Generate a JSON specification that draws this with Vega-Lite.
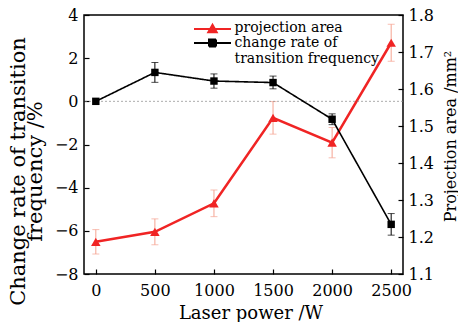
{
  "$schema": "https://vega.github.io/schema/vega-lite/v6.json",
  "width": 319,
  "height": 259,
  "autosize": "none",
  "padding": {"left": 84, "top": 15, "right": 55, "bottom": 48},
  "background": "white",
  "datasets": {
    "area": [
      {"power": 0, "area": 1.187, "lo": 1.154, "hi": 1.220, "series": "projection area"},
      {"power": 500, "area": 1.214, "lo": 1.179, "hi": 1.249, "series": "projection area"},
      {"power": 1000, "area": 1.291, "lo": 1.255, "hi": 1.327, "series": "projection area"},
      {"power": 1500, "area": 1.522, "lo": 1.478, "hi": 1.566, "series": "projection area"},
      {"power": 2000, "area": 1.455, "lo": 1.414, "hi": 1.496, "series": "projection area"},
      {"power": 2500, "area": 1.725, "lo": 1.675, "hi": 1.775, "series": "projection area"}
    ],
    "rate": [
      {"power": 0, "rate": 0, "lo": 0, "hi": 0, "series": "change rate of transition frequency"},
      {"power": 500, "rate": 1.34, "lo": 0.88, "hi": 1.80, "series": "change rate of transition frequency"},
      {"power": 1000, "rate": 0.94, "lo": 0.61, "hi": 1.27, "series": "change rate of transition frequency"},
      {"power": 1500, "rate": 0.87, "lo": 0.58, "hi": 1.17, "series": "change rate of transition frequency"},
      {"power": 2000, "rate": -0.83, "lo": -1.08, "hi": -0.58, "series": "change rate of transition frequency"},
      {"power": 2500, "rate": -5.7, "lo": -6.2, "hi": -5.2, "series": "change rate of transition frequency"}
    ],
    "zero": [{"v": 0}]
  },
  "layer": [
    {
      "data": {"name": "area"},
      "layer": [
        {
          "mark": {"type": "rule", "color": "#f5a391", "strokeWidth": 1},
          "encoding": {
            "x": {"field": "power", "type": "quantitative", "scale": {"domain": [-100, 2600]}, "axis": {"title": "Laser power /W", "values": [0, 500, 1000, 1500, 2000, 2500], "format": "d"}},
            "y": {"field": "lo", "type": "quantitative", "scale": {"domain": [1.1, 1.8]}, "axis": {"orient": "right", "title": "Projection area /mm²", "values": [1.1, 1.2, 1.3, 1.4, 1.5, 1.6, 1.7, 1.8], "format": ".1f"}},
            "y2": {"field": "hi"}
          }
        },
        {
          "mark": {"type": "tick", "orient": "horizontal", "color": "#f5a391", "size": 7, "thickness": 1},
          "encoding": {
            "x": {"field": "power", "type": "quantitative", "scale": {"domain": [-100, 2600]}, "axis": {"title": "Laser power /W", "values": [0, 500, 1000, 1500, 2000, 2500], "format": "d"}},
            "y": {"field": "lo", "type": "quantitative", "scale": {"domain": [1.1, 1.8]}, "axis": {"orient": "right", "title": "Projection area /mm²", "values": [1.1, 1.2, 1.3, 1.4, 1.5, 1.6, 1.7, 1.8], "format": ".1f"}}
          }
        },
        {
          "mark": {"type": "tick", "orient": "horizontal", "color": "#f5a391", "size": 7, "thickness": 1},
          "encoding": {
            "x": {"field": "power", "type": "quantitative", "scale": {"domain": [-100, 2600]}, "axis": {"title": "Laser power /W", "values": [0, 500, 1000, 1500, 2000, 2500], "format": "d"}},
            "y": {"field": "hi", "type": "quantitative", "scale": {"domain": [1.1, 1.8]}, "axis": {"orient": "right", "title": "Projection area /mm²", "values": [1.1, 1.2, 1.3, 1.4, 1.5, 1.6, 1.7, 1.8], "format": ".1f"}}
          }
        },
        {
          "mark": {"type": "line", "strokeWidth": 2.5},
          "encoding": {
            "x": {"field": "power", "type": "quantitative", "scale": {"domain": [-100, 2600]}, "axis": {"title": "Laser power /W", "values": [0, 500, 1000, 1500, 2000, 2500], "format": "d"}},
            "y": {"field": "area", "type": "quantitative", "scale": {"domain": [1.1, 1.8]}, "axis": {"orient": "right", "title": "Projection area /mm²", "values": [1.1, 1.2, 1.3, 1.4, 1.5, 1.6, 1.7, 1.8], "format": ".1f"}},
            "color": {
              "field": "series", "type": "nominal",
              "scale": {"domain": ["projection area"], "range": ["#f02424"]},
              "legend": {
                "orient": "none", "legendX": 109, "legendY": 6, "title": null, "padding": 0,
                "labelBaseline": "top",
                "symbolType": "M-2.64,0H2.64M0,-0.6L0.6,0.45L-0.6,0.45Z",
                "symbolFillColor": "#f02424", "symbolStrokeColor": "#f02424",
                "encode": {
                  "symbols": {"update": {
                    "shape": {"value": "M-2.64,0H2.64M0,-0.6L0.6,0.45L-0.6,0.45Z"},
                    "fill": {"value": "#f02424"},
                    "stroke": {"value": "#f02424"},
                    "strokeWidth": {"value": 2},
                    "opacity": {"value": 1}
                  }},
                  "labels": {"update": {"dy": {"value": -8}}}
                }
              }
            }
          }
        },
        {
          "mark": {"type": "point", "shape": "triangle-up", "filled": true, "size": 90, "color": "#f02424", "opacity": 1},
          "encoding": {
            "x": {"field": "power", "type": "quantitative", "scale": {"domain": [-100, 2600]}, "axis": {"title": "Laser power /W", "values": [0, 500, 1000, 1500, 2000, 2500], "format": "d"}},
            "y": {"field": "area", "type": "quantitative", "scale": {"domain": [1.1, 1.8]}, "axis": {"orient": "right", "title": "Projection area /mm²", "values": [1.1, 1.2, 1.3, 1.4, 1.5, 1.6, 1.7, 1.8], "format": ".1f"}}
          }
        }
      ]
    },
    {
      "data": {"name": "rate"},
      "layer": [
        {
          "data": {"name": "zero"},
          "mark": {"type": "rule", "color": "#888888", "strokeWidth": 0.7, "strokeDash": [2, 2]},
          "encoding": {
            "y": {"field": "v", "type": "quantitative", "scale": {"domain": [-8, 4]}, "axis": {"orient": "left", "title": ["Change rate of transition", "frequency /%"], "values": [-8, -6, -4, -2, 0, 2, 4]}}
          }
        },
        {
          "transform": [{"filter": "datum.power > 0"}],
          "mark": {"type": "rule", "color": "#000000", "strokeWidth": 1},
          "encoding": {
            "x": {"field": "power", "type": "quantitative", "scale": {"domain": [-100, 2600]}, "axis": {"title": "Laser power /W", "values": [0, 500, 1000, 1500, 2000, 2500], "format": "d"}},
            "y": {"field": "lo", "type": "quantitative", "scale": {"domain": [-8, 4]}, "axis": {"orient": "left", "title": ["Change rate of transition", "frequency /%"], "values": [-8, -6, -4, -2, 0, 2, 4]}},
            "y2": {"field": "hi"}
          }
        },
        {
          "transform": [{"filter": "datum.power > 0"}],
          "mark": {"type": "tick", "orient": "horizontal", "color": "#000000", "size": 7, "thickness": 1},
          "encoding": {
            "x": {"field": "power", "type": "quantitative", "scale": {"domain": [-100, 2600]}, "axis": {"title": "Laser power /W", "values": [0, 500, 1000, 1500, 2000, 2500], "format": "d"}},
            "y": {"field": "lo", "type": "quantitative", "scale": {"domain": [-8, 4]}, "axis": {"orient": "left", "title": ["Change rate of transition", "frequency /%"], "values": [-8, -6, -4, -2, 0, 2, 4]}}
          }
        },
        {
          "transform": [{"filter": "datum.power > 0"}],
          "mark": {"type": "tick", "orient": "horizontal", "color": "#000000", "size": 7, "thickness": 1},
          "encoding": {
            "x": {"field": "power", "type": "quantitative", "scale": {"domain": [-100, 2600]}, "axis": {"title": "Laser power /W", "values": [0, 500, 1000, 1500, 2000, 2500], "format": "d"}},
            "y": {"field": "hi", "type": "quantitative", "scale": {"domain": [-8, 4]}, "axis": {"orient": "left", "title": ["Change rate of transition", "frequency /%"], "values": [-8, -6, -4, -2, 0, 2, 4]}}
          }
        },
        {
          "mark": {"type": "line", "strokeWidth": 1.6, "color": "#000000"},
          "encoding": {
            "x": {"field": "power", "type": "quantitative", "scale": {"domain": [-100, 2600]}, "axis": {"title": "Laser power /W", "values": [0, 500, 1000, 1500, 2000, 2500], "format": "d"}},
            "y": {"field": "rate", "type": "quantitative", "scale": {"domain": [-8, 4]}, "axis": {"orient": "left", "title": ["Change rate of transition", "frequency /%"], "values": [-8, -6, -4, -2, 0, 2, 4]}},
            "strokeDash": {
              "field": "series", "type": "nominal",
              "scale": {"domain": ["change rate of transition frequency"], "range": [[1, 0]]},
              "legend": {
                "orient": "none", "legendX": 109, "legendY": 20, "title": null, "padding": 0,
                "labelBaseline": "top",
                "labelExpr": "['change rate of', 'transition frequency']",
                "symbolType": "M-2.64,0H2.64M-0.5,-0.5H0.5V0.5H-0.5Z",
                "symbolFillColor": "#000000", "symbolStrokeColor": "#000000",
                "encode": {
                  "symbols": {"update": {
                    "shape": {"value": "M-2.64,0H2.64M-0.5,-0.5H0.5V0.5H-0.5Z"},
                    "fill": {"value": "#000000"},
                    "stroke": {"value": "#000000"},
                    "strokeWidth": {"value": 2},
                    "opacity": {"value": 1}
                  }},
                  "labels": {"update": {"dy": {"value": -7}}}
                }
              }
            }
          }
        },
        {
          "mark": {"type": "point", "shape": "square", "filled": true, "size": 55, "color": "#000000", "opacity": 1},
          "encoding": {
            "x": {"field": "power", "type": "quantitative", "scale": {"domain": [-100, 2600]}, "axis": {"title": "Laser power /W", "values": [0, 500, 1000, 1500, 2000, 2500], "format": "d"}},
            "y": {"field": "rate", "type": "quantitative", "scale": {"domain": [-8, 4]}, "axis": {"orient": "left", "title": ["Change rate of transition", "frequency /%"], "values": [-8, -6, -4, -2, 0, 2, 4]}}
          }
        }
      ]
    }
  ],
  "resolve": {"scale": {"y": "independent"}},
  "config": {
    "view": {"stroke": "#000000", "strokeWidth": 1.5},
    "font": "DejaVu Serif",
    "axis": {
      "labelFont": "DejaVu Serif", "labelFontSize": 16, "labelColor": "#000000",
      "titleFont": "DejaVu Serif", "titleFontWeight": "normal", "titleColor": "#000000",
      "tickColor": "#000000", "tickSize": -5, "tickWidth": 1.2,
      "domain": false, "grid": false, "labelFlush": false, "labelOverlap": false
    },
    "axisX": {"labelPadding": 13, "titleFontSize": 18, "titleBaseline": "alphabetic", "titleX": 166.5, "titleY": 44, "labelAngle": 0},
    "axisLeft": {"labelPadding": 11, "titleFontSize": 21, "titleAngle": -90, "titleBaseline": "alphabetic", "titleAlign": "center", "titleX": -60, "titleY": 156, "titleLineHeight": 17},
    "axisRight": {"labelPadding": 10, "titleFontSize": 16, "titleAngle": -90, "titleBaseline": "alphabetic", "titleAlign": "center", "titleX": 52, "titleY": 121},
    "legend": {
      "labelFont": "DejaVu Serif", "labelFontSize": 14, "labelColor": "#000000", "labelLimit": 300,
      "labelLineHeight": 15.5, "symbolSize": 196, "symbolOffset": 11.5, "labelOffset": 14,
      "symbolStrokeWidth": 2
    }
  },
  "encoding": {}
}
